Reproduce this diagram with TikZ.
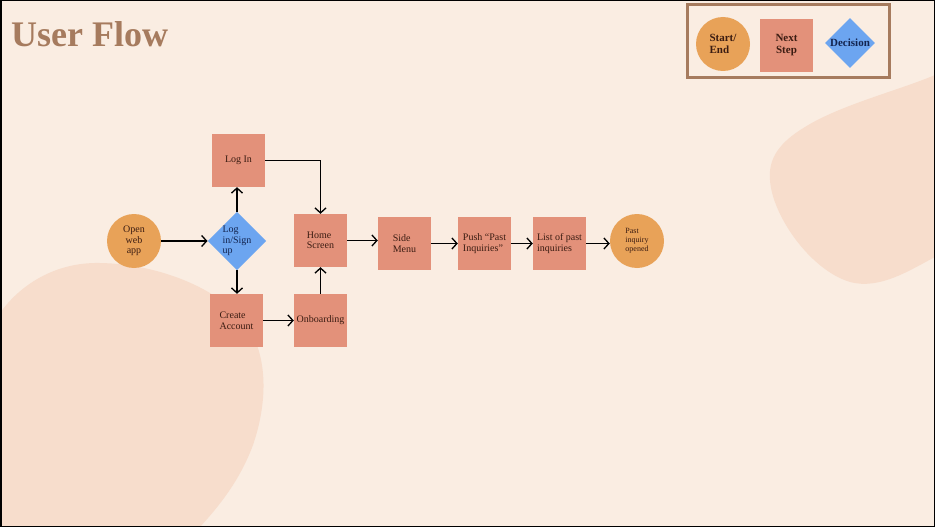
\documentclass[tikz,border=0pt]{standalone}
\usepackage{fontspec}
\setmainfont{Liberation Serif}
\usetikzlibrary{arrows.meta,shapes.geometric}
\definecolor{bg}{HTML}{FAEDE2}
\definecolor{blob}{HTML}{F7DDCC}
\definecolor{startc}{HTML}{E8A258}
\definecolor{stepc}{HTML}{E3917A}
\definecolor{decc}{HTML}{6CA5F0}
\definecolor{titlec}{HTML}{A67B5E}
\definecolor{brtext}{HTML}{3B1C12}
\definecolor{bltext}{HTML}{13244F}
\tikzset{
  stepbox/.style={rectangle, fill=stepc, minimum width=53pt, minimum height=53pt, inner sep=1pt, align=left, text=brtext, font=\fontsize{10}{10.5}\selectfont},
  termnode/.style={circle, fill=startc, minimum size=54pt, inner sep=0pt, align=center, text=brtext, font=\fontsize{10}{10.5}\selectfont},
  decnode/.style={diamond, fill=decc, minimum width=52pt, minimum height=52pt, inner sep=0pt, align=left, text=bltext, font=\fontsize{10}{10.5}\selectfont},
  flow/.style={-{Straight Barb[length=5pt,width=11pt,line width=1.3pt]}, line width=1.4pt, black},
}
\begin{document}
\begin{tikzpicture}[x=1pt,y=-1pt]
\useasboundingbox (0,0) rectangle (935,527);
\fill[bg] (0,0) rectangle (935,527);
% blobs
\fill[blob] (0,313) .. controls (20,285) and (55,262) .. (100,263)
  .. controls (160,264) and (225,290) .. (250,330)
  .. controls (270,365) and (265,410) .. (253,445)
  .. controls (240,480) and (220,505) .. (200,527)
  -- (0,527) -- cycle;
\fill[blob] (935,75) .. controls (900,90) and (840,105) .. (805,127)
  .. controls (780,142) and (768,158) .. (770,180)
  .. controls (772,215) and (810,270) .. (850,282)
  .. controls (880,290) and (910,270) .. (935,257) -- cycle;
% title
\node[anchor=base west, text=titlec, font=\fontsize{36}{36}\bfseries\selectfont, inner sep=0pt] (title) at (11,47) {User Flow};
% legend
\node[draw=titlec, line width=3pt, minimum width=202pt, minimum height=73pt, inner sep=0pt] (legend) at (788.5,41.5) {};
\node[termnode, font=\fontsize{11}{12}\bfseries\selectfont, align=left] (lstart) at (723,44) {Start/\\End};
\node[stepbox, font=\fontsize{11}{12}\bfseries\selectfont, align=center] (lstep) at (786.5,45.5) {Next\\Step};
\node[decnode, minimum width=50pt, minimum height=50pt, font=\fontsize{11}{12}\bfseries\selectfont] (ldec) at (850,43) {Decision};
% flow nodes
\node[termnode] (open) at (134,241) {Open\\web\\app};
\node[decnode] (dec) at (237,241) {Log\\in/Sign\\up};
\node[stepbox] (login) at (238.5,160.5) {Log In};
\node[stepbox] (create) at (236.5,320.5) {Create\\Account};
\node[stepbox] (home) at (320.5,240.5) {Home\\Screen};
\node[stepbox] (onb) at (320.5,320.5) {Onboarding};
\node[stepbox] (side) at (404.5,243.5) {Side\\Menu};
\node[stepbox] (push) at (484.5,243.5) {Push ``Past\\Inquiries''};
\node[stepbox] (list) at (559.5,243.5) {List of past\\inquiries};
\node[termnode, font=\fontsize{8}{9}\selectfont, align=left] (past) at (637,241) {Past\\inquiry\\opened};
% connectors
\draw[flow] (open) -- (dec);
\draw[flow] (dec.north) -- (dec.north |- login.south);
\draw[flow] (dec.south) -- (dec.south |- create.north);
\draw[flow] (login.east) -| (home.north);
\draw[flow] (create) -- (onb);
\draw[flow] (onb) -- (home);
\draw[flow] (home.east) -- (home.east -| side.west);
\draw[flow] (side) -- (push);
\draw[flow] (push) -- (list);
\draw[flow] (list.east) -- (list.east -| past.west);
% frame
\draw[black, line width=1.5pt] (0.75,0.75) rectangle (934.25,526.25);
\end{tikzpicture}
\end{document}
